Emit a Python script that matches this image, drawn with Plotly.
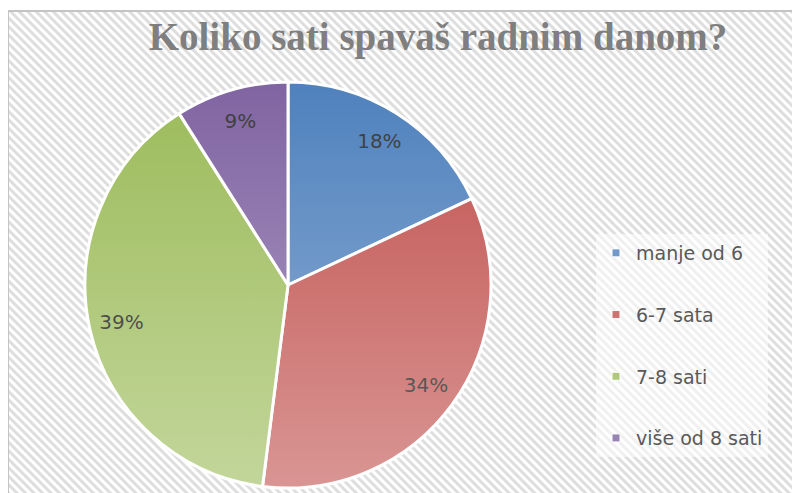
import base64
import plotly.graph_objects as go

# ---- data ----
categories = ["manje od 6", "6-7 sata", "7-8 sati", "više od 8 sati"]
values = [18, 34, 39, 9]
title_text = "Koliko sati spavaš radnim danom?"

# ---- styles ----
top_colors = ["#4F81BD", "#C0504D", "#9BBB59", "#8064A2"]
mid_colors = ["#7399CB", "#CD7370", "#AFC87A", "#9983B5"]
label_colors = ["#363636", "#101010", "#151515", "#383838"]

W, H = 800, 493
OFF = 8  # page body margin: figure is drawn 8px right/down on screen
CX, CY, R = 288 - OFF, 285 - OFF, 203


def svg_uri(svg):
    return "data:image/svg+xml;base64," + base64.b64encode(svg.encode("utf-8")).decode()


# hatched chart-area background with grey top/left border
bx, by = 7 - OFF, 10 - OFF
bw, bh = W - bx, H - by
hatch_svg = f'''<svg xmlns="http://www.w3.org/2000/svg" width="{bw}" height="{bh}" viewBox="0 0 {bw} {bh}">
<defs><pattern id="p" width="6" height="6" patternUnits="userSpaceOnUse" patternTransform="rotate(-45)">
<rect width="6" height="6" fill="#ffffff"/><rect width="3" height="6" fill="#dedede"/></pattern></defs>
<rect width="{bw}" height="{bh}" fill="url(#p)"/>
<line x1="0" y1="1" x2="{bw}" y2="1" stroke="#c4c4c4" stroke-width="2"/>
<line x1="1" y1="0" x2="1" y2="{bh}" stroke="#c4c4c4" stroke-width="2"/>
</svg>'''

# vertical light gradient over the pie (dark top -> light bottom)
D = 2 * (R + 2)
grad_svg = f'''<svg xmlns="http://www.w3.org/2000/svg" width="{D}" height="{D}" viewBox="0 0 {D} {D}">
<defs><linearGradient id="g" x1="0" y1="0" x2="0" y2="1">
<stop offset="0" stop-color="#ffffff" stop-opacity="0"/>
<stop offset="1" stop-color="#ffffff" stop-opacity="0.4"/></linearGradient></defs>
<circle cx="{D/2}" cy="{D/2}" r="{D/2}" fill="url(#g)"/>
</svg>'''

pie_domain = dict(x=[(CX - R) / W, (CX + R) / W], y=[(H - CY - R) / H, (H - CY + R) / H])

fig = go.Figure()

# coloured slices
fig.add_trace(go.Pie(
    labels=categories,
    values=values,
    sort=False,
    direction="clockwise",
    rotation=0,
    marker=dict(colors=top_colors, line=dict(color="#ffffff", width=3)),
    textinfo="none",
    domain=pie_domain,
    showlegend=False,
    hoverinfo="label+percent",
))

# percentage labels placed in the outer ring of the same pie
fig.add_trace(go.Pie(
    labels=categories,
    values=values,
    sort=False,
    direction="clockwise",
    rotation=0,
    hole=0.68,
    marker=dict(colors=["rgba(0,0,0,0)"] * len(values), line=dict(width=0)),
    texttemplate="%{percent:.0%}",
    textposition="inside",
    insidetextorientation="horizontal",
    textfont=dict(family="DejaVu Sans", size=20, color=label_colors),
    domain=pie_domain,
    showlegend=False,
    hoverinfo="skip",
))

# legend entries
for i, (cat, col) in enumerate(zip(categories, mid_colors)):
    fig.add_trace(go.Scatter(
        x=[None], y=[None], mode="markers", name=cat,
        legendgroup=f"g{i}",
        marker=dict(symbol="square", size=8, color=col, line=dict(color="#ffffff", width=1)),
    ))

fig.update_layout(
    width=W, height=H,
    margin=dict(l=0, r=0, t=0, b=0),
    paper_bgcolor="#ffffff",
    plot_bgcolor="rgba(0,0,0,0)",
    xaxis=dict(visible=False),
    yaxis=dict(visible=False),
    title=dict(
        text=f"<b>{title_text}</b>",
        font=dict(family="Liberation Serif", size=39, color="#7f7f7f"),
        x=(438 - OFF) / W, xanchor="center", y=1 - (36 - OFF) / H, yanchor="middle",
    ),
    legend=dict(
        x=(596 - OFF) / W, xanchor="left", y=1 - (234 - OFF) / H, yanchor="top",
        bgcolor="rgba(255,255,255,0.55)",
        font=dict(family="DejaVu Sans", size=19, color="#595959"),
        tracegroupgap=34,
        itemclick=False, itemdoubleclick=False,
    ),
    images=[
        dict(source=svg_uri(hatch_svg), xref="paper", yref="paper",
             x=bx / W, y=1 - by / H, sizex=bw / W, sizey=bh / H,
             xanchor="left", yanchor="top", sizing="stretch", layer="below"),
        dict(source=svg_uri(grad_svg), xref="paper", yref="paper",
             x=(CX - D / 2) / W, y=1 - (CY - D / 2) / H, sizex=D / W, sizey=D / H,
             xanchor="left", yanchor="top", sizing="stretch", layer="above"),
    ],
)

fig.write_html("out.html")
